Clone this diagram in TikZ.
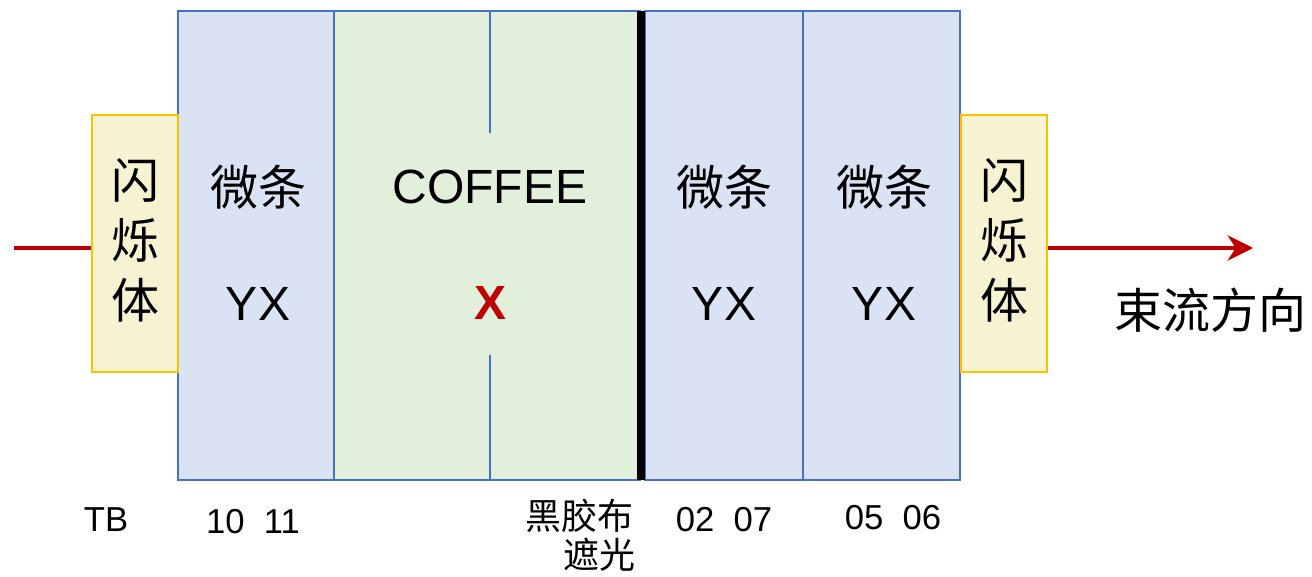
\documentclass[tikz,border=0pt]{standalone}
\usepackage{fontspec}
\setmainfont{Liberation Sans}
\newfontfamily\cjk{Noto Sans CJK SC}
\usetikzlibrary{arrows.meta}
\definecolor{scfill}{HTML}{F6F2D2}
\definecolor{scdraw}{HTML}{FFC000}
\definecolor{msfill}{HTML}{DAE3F3}
\definecolor{msdraw}{HTML}{4472C4}
\definecolor{cofill}{HTML}{E2EFDA}
\definecolor{beamred}{HTML}{C00000}
\begin{document}
\begin{tikzpicture}[x=0.75pt,y=-0.75pt,
  scint/.style={draw=scdraw,fill=scfill,line width=1.5pt,inner sep=0pt,minimum width=64.5pt,minimum height=192.75pt},
  strip/.style={draw=msdraw,fill=msfill,line width=1.5pt,inner sep=0pt,minimum height=351.75pt},
  big/.style={font=\fontsize{36}{40}\selectfont,inner sep=0pt},
  bigcjk/.style={font=\fontsize{36}{45}\cjk,inner sep=0pt,align=center},
  small/.style={font=\fontsize{26}{30}\selectfont,inner sep=0pt},
  smallcjk/.style={font=\fontsize{27}{30}\cjk,inner sep=0pt},
  beam/.style={draw=beamred,line width=3pt},
  split/.style={draw=msdraw,line width=1.5pt}]
\useasboundingbox (0,0) rectangle (1312,577);
% boxes
\node[strip,minimum width=117pt] (s1) at (256,245.5) {};
\node[strip,fill=cofill,minimum width=229.5pt] (co) at (487,245.5) {};
\node[strip,minimum width=118.5pt] (s2) at (724,245.5) {};
\node[strip,minimum width=117.75pt] (s3) at (881.5,245.5) {};
\node[scint] (ls) at (135,243.5) {};
\node[scint] (rs) at (1004,243.5) {};
% black tape
\coordinate (bt) at (641,11);
\coordinate (bb) at (641,480);
\draw[line width=6pt] (bt) -- (bb);
% split lines in COFFEE
\coordinate (ct) at (490,133);
\coordinate (cb) at (490,355);
\draw[split] (ct) -- (ct |- co.north);
\draw[split] (cb) -- (cb |- co.south);
% beam
\coordinate (bin) at (14,248);
\coordinate (bout) at (1253,248);
\draw[beam] (bin) -- (bin -| ls.west);
\draw[beam,-{Stealth[length=19pt,width=19pt,inset=6pt]}] (rs.east |- bout) -- (bout);
% texts
\node[bigcjk] (lt) at (135,240) {闪\\烁\\体};
\node[bigcjk] (rt) at (1004,240) {闪\\烁\\体};
\node[bigcjk] (m1) at (258,187) {微条};
\node[big] (y1) at (258,304) {YX};
\node[big] (cf) at (490,187) {COFFEE};
\node[big,text=beamred,font=\fontsize{36}{40}\bfseries] (xx) at (490,303) {X};
\node[bigcjk] (m2) at (724,187) {微条};
\node[big] (y2) at (724,304) {YX};
\node[bigcjk] (m3) at (884,187) {微条};
\node[big] (y3) at (884,304) {YX};
\node[bigcjk] (dir) at (1210,310) {束流方向};
% bottom labels
\node[small] (tb) at (106,520) {TB};
\node[small] (n1) at (253,522) {10\hspace{0.55em}11};
\node[smallcjk,anchor=east] (hj) at (634,516) {黑胶布};
\node[smallcjk,anchor=east] (zg) at (636,555) {遮光};
\node[small] (n2) at (724,520) {02\hspace{0.55em}07};
\node[small] (n3) at (893,518) {05\hspace{0.55em}06};
\end{tikzpicture}
\end{document}
